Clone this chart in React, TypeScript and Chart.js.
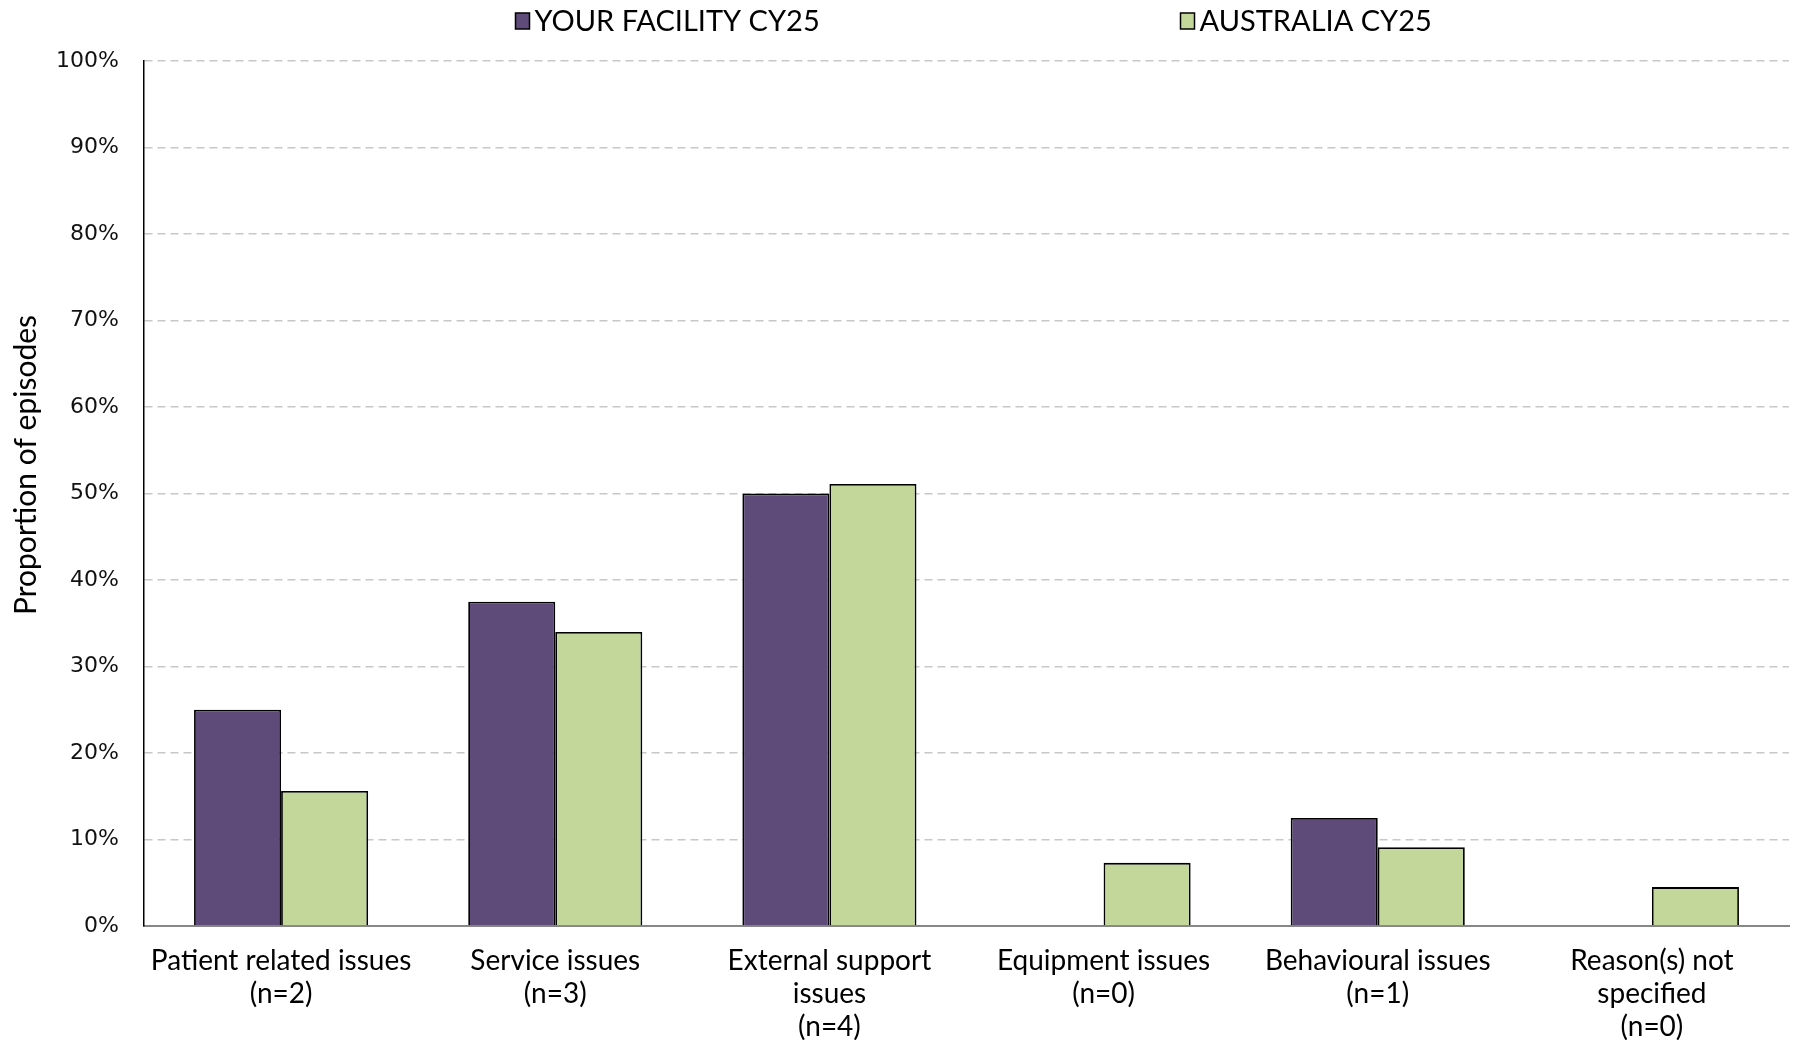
import React, { useEffect, useRef } from 'react';
import { Chart, registerables } from 'chart.js';

Chart.register(...registerables);

const categories: string[][] = [
  ['Patient related issues', '(n=2)'],
  ['Service issues', '(n=3)'],
  ['External support', 'issues', '(n=4)'],
  ['Equipment issues', '(n=0)'],
  ['Behavioural issues', '(n=1)'],
  ['Reason(s) not', 'specified', '(n=0)'],
];
const seriesLabels = ['YOUR FACILITY CY25', 'AUSTRALIA CY25'];
const facilityValues = [25, 37.5, 50, 0, 12.5, 0];
const australiaValues = [15.6, 34.0, 51.1, 7.3, 9.1, 4.5];
const yAxisTitle = 'Proportion of episodes';

const PURPLE = '#5f4b79';
const GREEN = '#c4d79b';

const legendPlugin = {
  id: 'customLegend',
  afterDraw(chart: any) {
    const { ctx, chartArea } = chart;
    const w = chartArea.right - chartArea.left;
    const h = chartArea.bottom - chartArea.top;
    const fracs = [0.2255, 0.630];
    ctx.save();
    ctx.font = '29px Lato';
    ctx.textBaseline = 'middle';
    ctx.textAlign = 'left';
    chart.data.datasets.forEach((ds: any, i: number) => {
      const x = Math.round(chartArea.left + fracs[i] * w) + 0.5;
      const y = 21;
      ctx.fillStyle = ds.backgroundColor;
      ctx.fillRect(x, y - 8, 14, 16);
      ctx.strokeStyle = '#000';
      ctx.lineWidth = 1.5;
      ctx.strokeRect(x, y - 8, 14, 16);
      ctx.fillStyle = '#000';
      ctx.fillText(ds.label, x + 19, y + 1);
    });
    // y axis title
    ctx.save();
    ctx.translate(26, chartArea.top + 0.467 * h);
    ctx.rotate(-Math.PI / 2);
    ctx.textAlign = 'center';
    ctx.textBaseline = 'middle';
    ctx.font = '30px Lato';
    ctx.fillStyle = '#000';
    ctx.fillText(yAxisTitle, 0, 0);
    ctx.restore();
    ctx.restore();
  },
};

export default function App() {
  const canvasRef = useRef<HTMLCanvasElement | null>(null);

  useEffect(() => {
    document.body.style.margin = '0';
    const canvas = canvasRef.current;
    if (!canvas) return;
    const chart = new Chart(canvas, {
      type: 'bar',
      data: {
        labels: categories,
        datasets: [
          {
            label: seriesLabels[0],
            data: facilityValues,
            backgroundColor: PURPLE,
            borderColor: '#000',
            borderWidth: (c: any) => (c.raw === 0 ? 0 : 1.8),
            categoryPercentage: 0.635,
            barPercentage: 1,
          },
          {
            label: seriesLabels[1],
            data: australiaValues,
            backgroundColor: GREEN,
            borderColor: '#000',
            borderWidth: (c: any) => (c.raw === 0 ? 0 : 1.8),
            categoryPercentage: 0.635,
            barPercentage: 1,
          },
        ],
      },
      options: {
        animation: false,
        responsive: false,
        devicePixelRatio: 1,
        layout: { padding: { top: 61, right: 7, bottom: 0, left: 0 } },
        plugins: {
          legend: { display: false },
          tooltip: { enabled: false },
        },
        scales: {
          x: {
            grid: { display: false },
            border: { display: true, color: '#878787', width: 2 },
            ticks: {
              color: '#000',
              font: { family: 'Lato', size: 28, lineHeight: 1.18 },
              padding: 10,
              maxRotation: 0,
              autoSkip: false,
            },
            afterFit: (scale: any) => {
              scale.height = 114;
            },
          },
          y: {
            min: 0,
            max: 100,
            ticks: {
              stepSize: 10,
              color: '#111',
              font: { family: 'DejaVu Sans', size: 22 },
              padding: 25,
              callback: (v: any) => v + '%',
            },
            grid: {
              drawTicks: false,
              color: (c: any) => (c.tick && c.tick.value === 0 ? 'rgba(0,0,0,0)' : '#c8c8c8'),
              lineWidth: 1.5,
            },
            border: { display: true, color: '#000', width: 1.5, dash: [8, 5] as any },
            title: { display: false },
            afterFit: (scale: any) => {
              scale.width = 144;
            },
          },
        },
      },
      plugins: [legendPlugin],
    } as any);
    return () => chart.destroy();
  }, []);

  return (
    <div style={{ width: 1796, height: 1040 }}>
      <canvas ref={canvasRef} width={1796} height={1040} style={{ display: 'block' }} />
    </div>
  );
}
